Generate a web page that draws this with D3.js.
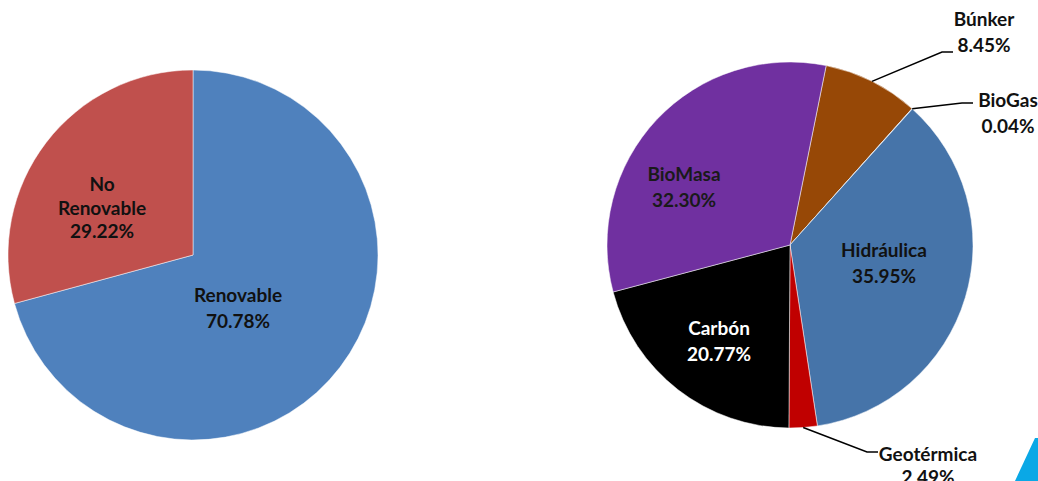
<html lang="es">
<head>
    <meta charset="UTF-8">
    <title>Generación renovable vs no renovable</title>
    <script src="https://cdnjs.cloudflare.com/ajax/libs/d3/7.8.5/d3.min.js"></script>
    <style type="text/css">
        body { margin: 0; background: #fff; }
        text { font-family: Lato, "Open Sans", sans-serif; font-weight: bold; font-size: 19px; }
    </style>
</head>
<body>
    <div id="onlydiv"></div>
    <script type="text/javascript">

        // Data
        var leftNames = ["Renovable", "No Renovable"];
        var leftValues = [70.78, 29.22];
        var leftColors = ["#4F81BD", "#C0504D"];

        var rightNames = ["Búnker", "BioGas", "Hidráulica", "Geotérmica", "Carbón", "BioMasa"];
        var rightValues = [8.45, 0.04, 35.95, 2.49, 20.77, 32.30];
        var rightColors = ["#974806", "#8FA8D0", "#4674A9", "#C00000", "#000000", "#7030A0"];

        var w = 1038;
        var h = 481;

        var svg = d3.select("#onlydiv")
        .append("svg")
        .attr("width", w)
        .attr("height", h);

        var fmt = function(v) { return v.toFixed(2) + "%"; };

        // Left pie
        var leftPie = d3.pie().sort(null)(leftValues);
        var leftArc = d3.arc().innerRadius(0).outerRadius(185);

        var gl = svg.append("g").attr("transform", "translate(193,255)");
        gl.selectAll("path")
        .data(leftPie)
        .enter()
        .append("path")
        .attr("d", leftArc)
        .attr("fill", function(d, i) { return leftColors[i]; })
        .attr("stroke", "#fff")
        .attr("stroke-width", 0.5);

        // first baseline of each label, relative to centre
        var leftLabelPos = [[45, 47], [-91, -64]];
        var leftLines = [["Renovable"], ["No", "Renovable"]];
        leftPie.forEach(function(d, i) {
            var lines = leftLines[i].concat([fmt(leftValues[i])]);
            var t = gl.append("text")
            .attr("text-anchor", "middle")
            .attr("x", leftLabelPos[i][0])
            .attr("y", leftLabelPos[i][1])
            .attr("fill", "#111");
            lines.forEach(function(s, k) {
                t.append("tspan")
                .attr("x", leftLabelPos[i][0])
                .attr("dy", k == 0 ? 0 : (lines.length == 3 ? 23.5 : 26))
                .text(s);
            });
        });

        // Right pie
        var startOff = 11.4 * Math.PI / 180;
        var rightPie = d3.pie().sort(null)
        .startAngle(startOff)
        .endAngle(startOff + 2 * Math.PI)(rightValues);
        var rr = 183;
        var rightArc = d3.arc().innerRadius(0).outerRadius(rr);

        var gr = svg.append("g").attr("transform", "translate(790,245)");
        gr.selectAll("path")
        .data(rightPie)
        .enter()
        .append("path")
        .attr("d", rightArc)
        .attr("fill", function(d, i) { return rightColors[i]; })
        .attr("stroke", "#fff")
        .attr("stroke-width", 0.5);

        // inside labels: [x, y] of first line baseline, colour
        var inside = {
            "Hidráulica": [94, 12, "#111"],
            "Carbón": [-71, 90, "#fff"],
            "BioMasa": [-106, -64, "#1a1a1a"]
        };
        // outside labels: elbow point, end point, label centre
        var outside = {
            "Búnker": [[152, -193], [163, -193], [194, -219]],
            "BioGas": [[172, -142], [183, -142], [218, -138]],
            "Geotérmica": [[77, 207], [88, 207], [138, 216]]
        };

        rightPie.forEach(function(d, i) {
            var name = rightNames[i];
            var mid = (d.startAngle + d.endAngle) / 2;
            if (inside[name]) {
                var p = inside[name];
                var t = gr.append("text").attr("text-anchor", "middle").attr("fill", p[2]);
                t.append("tspan").attr("x", p[0]).attr("y", p[1]).text(name);
                t.append("tspan").attr("x", p[0]).attr("dy", 26).text(fmt(rightValues[i]));
            } else {
                var o = outside[name];
                var sx = Math.sin(mid) * rr, sy = -Math.cos(mid) * rr;
                gr.append("polyline")
                .attr("points", [[sx, sy], o[0], o[1]].map(function(q) { return q.join(","); }).join(" "))
                .attr("fill", "none")
                .attr("stroke", "#000")
                .attr("stroke-width", 1.5);
                var t2 = gr.append("text").attr("text-anchor", "middle").attr("fill", "#111");
                t2.append("tspan").attr("x", o[2][0]).attr("y", o[2][1]).text(name);
                t2.append("tspan").attr("x", o[2][0]).attr("dy", name == "Geotérmica" ? 23 : 26).text(fmt(rightValues[i]));
            }
        });

        // corner logo fragment
        svg.append("polygon")
        .attr("points", "1015,481 1035,438 1038,438 1038,481")
        .attr("fill", "#0AA8E6");

    </script>
</body>
</html>
